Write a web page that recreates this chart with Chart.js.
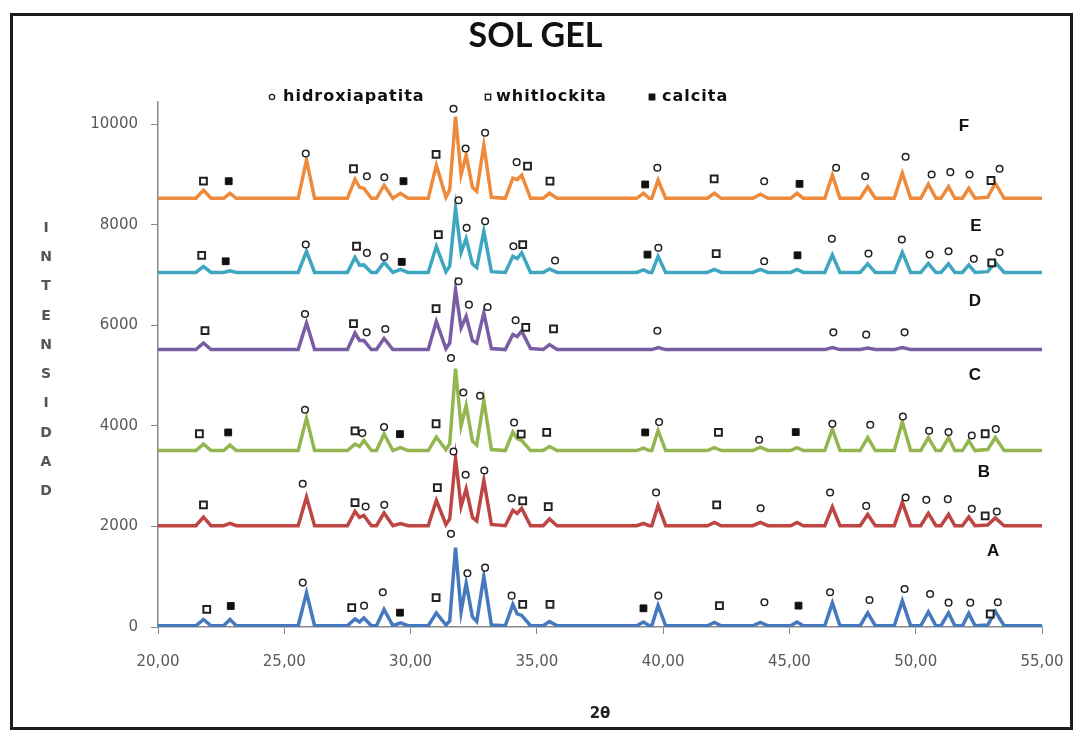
<!DOCTYPE html>
<html>
<head>
<meta charset="utf-8">
<script src="https://cdn.jsdelivr.net/npm/chart.js@4.4.1/dist/chart.umd.min.js"></script>
<style>
  html, body { margin: 0; padding: 0; background: #fff; }
  #wrap { width: 1083px; height: 732px; }
</style>
</head>
<body>
<div id="wrap"><canvas id="chartDRX" width="1083" height="732"></canvas></div>
<script>
// eje 2θ comun a todas las muestras
const twoTheta = [
  20.0, 21.5, 21.8, 22.1, 22.6, 22.85, 23.1, 25.55, 25.88, 26.2,
  27.5, 27.8, 27.98, 28.15, 28.45, 28.65, 28.95, 29.3, 29.6, 29.9,
  30.7, 31.02, 31.4, 31.55, 31.78, 32.0, 32.2, 32.45, 32.62, 32.9,
  33.2, 33.75, 34.05, 34.22, 34.4, 34.75, 35.25, 35.5, 35.8, 38.95,
  39.22, 39.45, 39.55, 39.8, 40.1, 41.75, 42.03, 42.3, 43.55, 43.85,
  44.15, 45.05, 45.3, 45.55, 46.4, 46.7, 47.0, 47.8, 48.1, 48.4,
  49.15, 49.47, 49.8, 50.2, 50.5, 50.8, 51.0, 51.3, 51.55, 51.85,
  52.1, 52.35, 52.85, 53.15, 53.5, 55.0
];

// intensidades (sin desplazamiento)
const intA = [
  25, 25, 150, 25, 25, 150, 25, 25, 680, 25,
  25, 160, 100, 180, 25, 25, 350, 25, 80, 25,
  25, 280, 40, 120, 1580, 300, 870, 200, 110, 1010,
  40, 25, 450, 260, 230, 25, 25, 110, 25, 25,
  100, 25, 25, 430, 25, 25, 90, 25, 25, 90,
  25, 25, 100, 25, 25, 480, 25, 25, 280, 25,
  25, 520, 25, 25, 300, 25, 25, 280, 25, 25,
  270, 25, 40, 310, 25, 25
];
const intB = [
  15, 15, 185, 15, 15, 60, 15, 15, 585, 15,
  15, 300, 180, 220, 15, 15, 270, 15, 60, 15,
  15, 520, 40, 150, 1360, 400, 750, 180, 110, 920,
  40, 15, 320, 260, 360, 15, 15, 150, 15, 15,
  60, 15, 15, 420, 15, 15, 80, 15, 15, 80,
  15, 15, 80, 15, 15, 390, 15, 15, 240, 15,
  15, 480, 15, 15, 260, 15, 15, 240, 15, 15,
  190, 15, 30, 170, 15, 15
];
const intC = [
  10, 10, 140, 10, 10, 120, 10, 10, 655, 10,
  10, 140, 90, 210, 10, 10, 340, 10, 70, 10,
  10, 280, 30, 150, 1640, 500, 910, 200, 120, 1010,
  30, 10, 380, 250, 210, 10, 10, 90, 10, 10,
  60, 10, 10, 410, 10, 10, 70, 10, 10, 80,
  10, 10, 70, 10, 10, 440, 10, 10, 270, 10,
  10, 580, 10, 10, 270, 10, 10, 270, 10, 10,
  210, 10, 30, 270, 10, 10
];
const intD = [
  20, 20, 150, 20, 20, 20, 20, 20, 550, 20,
  20, 350, 200, 200, 20, 20, 240, 20, 20, 20,
  20, 580, 40, 150, 1215, 450, 680, 200, 150, 750,
  40, 20, 320, 280, 385, 40, 20, 120, 20, 20,
  20, 20, 20, 60, 20, 20, 20, 20, 20, 20,
  20, 20, 20, 20, 20, 60, 20, 20, 50, 20,
  20, 60, 20, 20, 20, 20, 20, 20, 20, 20,
  20, 20, 20, 20, 20, 20
];
const intE = [
  55, 55, 175, 55, 55, 85, 55, 55, 475, 55,
  55, 355, 200, 205, 55, 55, 255, 55, 115, 55,
  55, 575, 70, 180, 1335, 450, 725, 220, 150, 875,
  70, 55, 375, 330, 445, 55, 55, 125, 55, 55,
  105, 55, 55, 375, 55, 55, 115, 55, 55, 115,
  55, 55, 115, 55, 55, 405, 55, 55, 225, 55,
  55, 455, 55, 55, 235, 55, 55, 225, 55, 55,
  205, 55, 70, 255, 55, 55
];
const intF = [
  30, 30, 190, 30, 30, 130, 30, 30, 790, 30,
  30, 410, 250, 230, 30, 30, 290, 30, 130, 30,
  30, 690, 50, 200, 1655, 500, 890, 250, 170, 1090,
  50, 30, 430, 400, 490, 30, 30, 130, 30, 30,
  130, 30, 30, 390, 30, 30, 130, 30, 30, 110,
  30, 30, 130, 30, 30, 490, 30, 30, 260, 30,
  30, 530, 30, 30, 310, 30, 30, 260, 30, 30,
  230, 30, 50, 330, 30, 30
];

const muestras = ['A', 'B', 'C', 'D', 'E', 'F'];
const desplazamientos = [0, 2000, 3500, 5500, 7000, 8500];
const intensidades = [intA, intB, intC, intD, intE, intF];
const colores = ['#4678bd', '#bd4543', '#93b651', '#7a5ea3', '#3fa6bf', '#ee8a3c'];

const ticksY = [0, 2000, 4000, 6000, 8000, 10000];
const ticksX = [20, 25, 30, 35, 40, 45, 50, 55];

// posicion de cada letra de muestra (2θ, intensidad)
const letraX = [53.07, 52.7, 52.34, 52.34, 52.38, 51.91];
const letraY = [1514, 3082, 5000, 6480, 7974, 9966];

// marcas de fases sobre los picos [2θ, intensidad]
const hidroxiapatita = [
  [25.85, 9422], [28.27, 8970], [28.96, 8950], [31.7, 10313], [32.18, 9522], [32.95, 9834], [34.2, 9249],
  [39.77, 9137], [44.0, 8870], [46.85, 9137], [48.0, 8970], [49.6, 9356], [50.63, 9004], [51.37, 9050],
  [52.13, 9004], [53.32, 9118],
  [25.85, 7610], [28.27, 7444], [28.96, 7364], [31.9, 8492], [32.22, 7942], [32.95, 8074], [34.07, 7576],
  [35.72, 7291], [39.81, 7544], [44.0, 7277], [46.68, 7723], [48.13, 7430], [49.45, 7709], [50.55, 7410],
  [51.3, 7476], [52.3, 7325], [53.32, 7456],
  [25.82, 6229], [28.26, 5863], [29.0, 5930], [31.9, 6879], [32.31, 6414], [33.05, 6368], [34.16, 6102],
  [39.77, 5896], [46.74, 5863], [48.04, 5817], [49.56, 5863],
  [25.82, 4323], [28.09, 3858], [28.95, 3978], [31.6, 5352], [32.09, 4667], [32.75, 4602], [34.1, 4070],
  [39.84, 4078], [43.8, 3725], [46.7, 4044], [48.2, 4024], [49.49, 4189], [50.53, 3904], [51.3, 3878],
  [52.22, 3811], [53.17, 3938],
  [25.73, 2849], [28.22, 2397], [28.96, 2430], [31.7, 3492], [32.18, 3028], [32.92, 3114], [34.0, 2564],
  [39.72, 2676], [43.86, 2364], [46.61, 2676], [48.04, 2410], [49.6, 2576], [50.42, 2530], [51.27, 2544],
  [52.22, 2351], [53.21, 2297],
  [25.73, 883], [28.16, 425], [28.9, 691], [31.6, 1853], [32.25, 1070], [32.95, 1181], [34.0, 624],
  [39.81, 624], [44.01, 492], [46.61, 691], [48.17, 538], [49.56, 757], [50.57, 657], [51.3, 484],
  [52.16, 484], [53.25, 492]
];
const whitlockita = [
  [21.8, 8870], [27.74, 9118], [31.01, 9402], [34.63, 9170], [35.52, 8870], [42.02, 8918], [52.98, 8884],
  [21.73, 7396], [27.86, 7576], [31.1, 7809], [34.44, 7610], [42.1, 7430], [53.01, 7245],
  [21.86, 5896], [27.74, 6036], [31.01, 6335], [34.56, 5963], [35.66, 5930],
  [21.64, 3845], [27.8, 3904], [31.01, 4044], [34.38, 3838], [35.39, 3871], [42.19, 3871], [52.75, 3845],
  [21.8, 2430], [27.8, 2476], [31.06, 2775], [34.44, 2510], [35.45, 2397], [42.12, 2430], [52.75, 2211],
  [21.93, 352], [27.67, 385], [31.01, 584], [34.44, 452], [35.52, 452], [42.23, 425], [52.95, 259]
];
const calcita = [
  [22.8, 8870], [29.72, 8870], [39.29, 8805], [45.4, 8818],
  [22.68, 7277], [29.65, 7265], [39.38, 7410], [45.32, 7396],
  [22.78, 3871], [29.58, 3838], [39.29, 3871], [45.25, 3878],
  [22.88, 418], [29.58, 285], [39.22, 372], [45.36, 425]
];

const tickGris = '#595959';
const ejeGris = '#8a8a8a';

// series desplazadas verticalmente
const datasetsDRX = muestras.map((m, i) => ({
  label: m,
  data: twoTheta.map((t, k) => ({ x: t, y: intensidades[i][k] + desplazamientos[i] })),
  borderColor: colores[i],
  backgroundColor: colores[i],
  borderWidth: 3.5,
  pointRadius: 0,
  tension: 0,
  order: 10
}));

const toXY = arr => arr.map(p => ({ x: p[0], y: p[1] }));

const fases = [
  { label: 'hidroxiapatita', data: toXY(hidroxiapatita), pointStyle: 'circle', pointRadius: 3.3,
    pointBorderWidth: 1.5, pointBackgroundColor: '#fff', pointBorderColor: '#222' },
  { label: 'whitlockita', data: toXY(whitlockita), pointStyle: 'rect', pointRadius: 4.8,
    pointBorderWidth: 2, pointBackgroundColor: '#fff', pointBorderColor: '#222' },
  { label: 'calcita', data: toXY(calcita), pointStyle: 'rect', pointRadius: 4.8,
    pointBorderWidth: 1, pointBackgroundColor: '#111', pointBorderColor: '#111' }
].map(d => Object.assign({ type: 'scatter', showLine: false, order: 1 }, d));

// leyenda, letras de muestra, titulo vertical y marco
const adornos = {
  id: 'adornos',
  beforeDraw(chart) {
    const c = chart.ctx;
    c.save();
    c.fillStyle = '#fff';
    c.fillRect(0, 0, chart.width, chart.height);
    c.restore();
  },
  afterDraw(chart) {
    const c = chart.ctx;
    const xs = chart.scales.x, ys = chart.scales.y;
    c.save();

    // letras A..F
    c.fillStyle = '#111';
    c.font = 'bold 17px "Liberation Sans", Arial, sans-serif';
    c.textAlign = 'center';
    c.textBaseline = 'middle';
    muestras.forEach((m, i) => {
      c.fillText(m, xs.getPixelForValue(letraX[i]), ys.getPixelForValue(letraY[i]));
    });

    // titulo eje Y en letras apiladas
    c.fillStyle = '#555';
    c.font = 'bold 14px "DejaVu Sans", sans-serif';
    'INTENSIDAD'.split('').forEach((ch, k) => c.fillText(ch, 46, 228 + k * 29.3));

    // leyenda de fases
    const items = [
      { texto: 'hidroxiapatita', sx: 272, tx: 283, ds: fases[0], r: 2.6 },
      { texto: 'whitlockita', sx: 488, tx: 496, ds: fases[1], r: 3.8 },
      { texto: 'calcita', sx: 652, tx: 662, ds: fases[2], r: 3.8 }
    ];
    c.font = 'bold 16px "DejaVu Sans", sans-serif';
    c.textAlign = 'left';
    if ('letterSpacing' in c) c.letterSpacing = '1px';
    items.forEach(it => {
      c.fillStyle = '#111';
      c.fillText(it.texto, it.tx, 97);
      c.save();
      c.fillStyle = it.ds.pointBackgroundColor;
      c.strokeStyle = it.ds.pointBorderColor;
      c.lineWidth = 1.4;
      Chart.helpers.drawPoint(c, { pointStyle: it.ds.pointStyle, radius: it.r, rotation: 0, borderWidth: 1.4 }, it.sx, 97);
      c.restore();
    });
    if ('letterSpacing' in c) c.letterSpacing = '0px';

    // marco exterior
    c.strokeStyle = '#1c1c1c';
    c.lineWidth = 3;
    c.strokeRect(11.5, 14.5, 1060, 714);
    c.restore();
  }
};

const ctx = document.getElementById('chartDRX').getContext('2d');
new Chart(ctx, {
  type: 'line',
  data: { datasets: datasetsDRX.concat(fases) },
  options: {
    responsive: false,
    animation: false,
    layout: { padding: { left: 29, right: 41, top: 0, bottom: 0 } },
    plugins: {
      legend: { display: false },
      tooltip: { enabled: false },
      title: {
        display: true,
        text: 'SOL GEL',
        color: '#111',
        font: { family: 'Lato, "Liberation Sans", sans-serif', size: 34, weight: 'bold', lineHeight: 1.2 },
        padding: { top: 16, bottom: 45 }
      }
    },
    scales: {
      x: {
        type: 'linear',
        min: 20,
        max: 55,
        afterBuildTicks: s => { s.ticks = ticksX.map(v => ({ value: v })); },
        ticks: {
          color: tickGris,
          font: { family: '"DejaVu Sans", sans-serif', size: 15 },
          padding: 19,
          maxRotation: 0,
          callback: v => v.toFixed(2).replace('.', ',')
        },
        grid: { drawOnChartArea: false, drawTicks: true, tickLength: 7, color: ejeGris },
        border: { color: ejeGris, width: 1.5 },
        title: {
          display: true,
          text: '2θ',
          color: '#222',
          font: { family: '"DejaVu Sans", sans-serif', size: 15, weight: 'bold' },
          padding: { top: 0, bottom: 9 }
        },
        afterFit: s => { s.height = 105; }
      },
      y: {
        min: 0,
        max: 10450,
        afterBuildTicks: s => { s.ticks = ticksY.map(v => ({ value: v })); },
        ticks: {
          color: tickGris,
          font: { family: '"DejaVu Sans", sans-serif', size: 15 },
          padding: 13,
          callback: v => String(v)
        },
        grid: { drawOnChartArea: false, drawTicks: true, tickLength: 7, color: ejeGris },
        border: { color: ejeGris, width: 1.5 },
        afterFit: s => { s.width = 129; }
      }
    }
  },
  plugins: [adornos]
});
</script>
</body>
</html>
